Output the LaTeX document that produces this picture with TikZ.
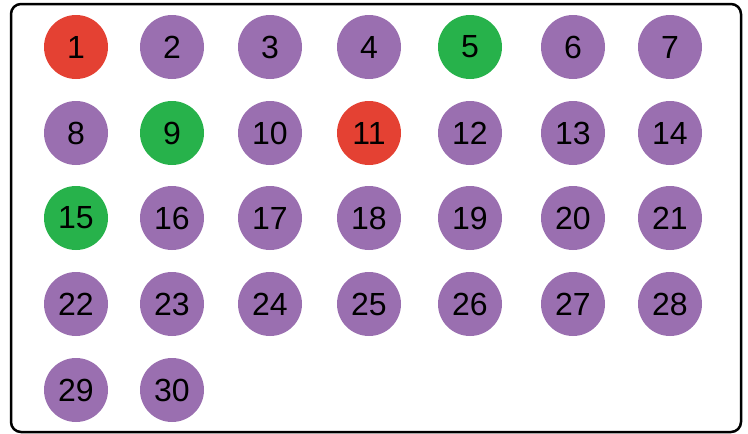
\documentclass[tikz,border=0pt]{standalone}
\usepackage{fontspec}
\setmainfont{Liberation Sans}
\definecolor{cred}{HTML}{E44133}
\definecolor{cpurple}{HTML}{9A6FB0}
\definecolor{cgreen}{HTML}{27B24B}
\begin{document}
\begin{tikzpicture}[x=1pt,y=-1pt,
  ball/.style={circle,minimum size=64pt,inner sep=0pt,font=\fontsize{32}{32}\selectfont},
  rb/.style={ball,fill=cred},
  pb/.style={ball,fill=cpurple},
  gb/.style={ball,fill=cgreen}]
\useasboundingbox (0,0) rectangle (748,434);
\node[draw=black,line width=2.5pt,rounded corners=10pt,minimum width=730pt,minimum height=428pt,inner sep=0pt] (frame) at (376,218) {};
\def\cols{{76,172,270,369,470,573,670}}
\def\rows{{47,133,218,304,390}}
\foreach \n/\c/\r/\s in {1/0/0/rb,2/1/0/pb,3/2/0/pb,4/3/0/pb,5/4/0/gb,6/5/0/pb,7/6/0/pb,
  8/0/1/pb,9/1/1/gb,10/2/1/pb,11/3/1/rb,12/4/1/pb,13/5/1/pb,14/6/1/pb,
  15/0/2/gb,16/1/2/pb,17/2/2/pb,18/3/2/pb,19/4/2/pb,20/5/2/pb,21/6/2/pb,
  22/0/3/pb,23/1/3/pb,24/2/3/pb,25/3/3/pb,26/4/3/pb,27/5/3/pb,28/6/3/pb,
  29/0/4/pb,30/1/4/pb}{
  \pgfmathsetmacro{\px}{\cols[\c]}
  \pgfmathsetmacro{\py}{\rows[\r]}
  \node[\s] (b\n) at (\px,\py) {\n};
}
\end{tikzpicture}
\end{document}
